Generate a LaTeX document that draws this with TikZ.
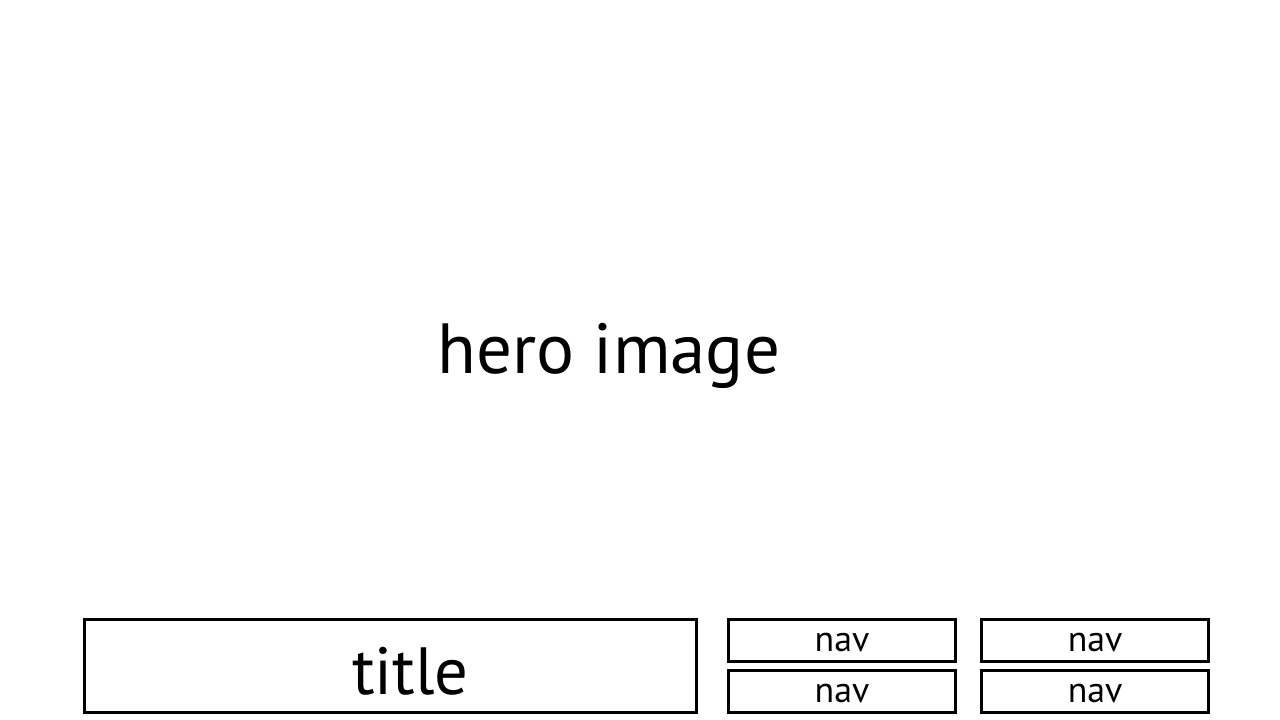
\documentclass[tikz,border=0pt]{standalone}
\usepackage{fontspec}
\setmainfont{PT Sans}
\usetikzlibrary{positioning}

\begin{document}
\begin{tikzpicture}[
  node distance=0.06cm and 0.23cm,
  frame/.style={rectangle, draw=black, line width=0.9pt, inner sep=0pt},
  titlebox/.style={frame, minimum width=6.12cm, minimum height=0.93cm,
                   text height=0.58cm, text depth=0cm,
                   font=\fontsize{19}{22}\selectfont},
  navbox/.style={frame, minimum width=2.27cm, minimum height=0.42cm,
                 text height=0.22cm, text depth=0cm,
                 font=\fontsize{10.2}{12}\selectfont}
]
  \useasboundingbox (0,0) rectangle (12.8,7.2);

  \node[font=\fontsize{20.2}{24}\selectfont] (hero) at (6.09,3.64) {hero image};

  \node[titlebox] (title) at (3.905,0.54) {\hspace*{0.4cm}title};
  \node[navbox] (navA) at (8.42,0.795) {nav};
  \node[navbox, below=of navA] (navB) {nav};
  \node[navbox, right=of navA] (navC) {nav};
  \node[navbox, below=of navC] (navD) {nav};
\end{tikzpicture}
\end{document}
